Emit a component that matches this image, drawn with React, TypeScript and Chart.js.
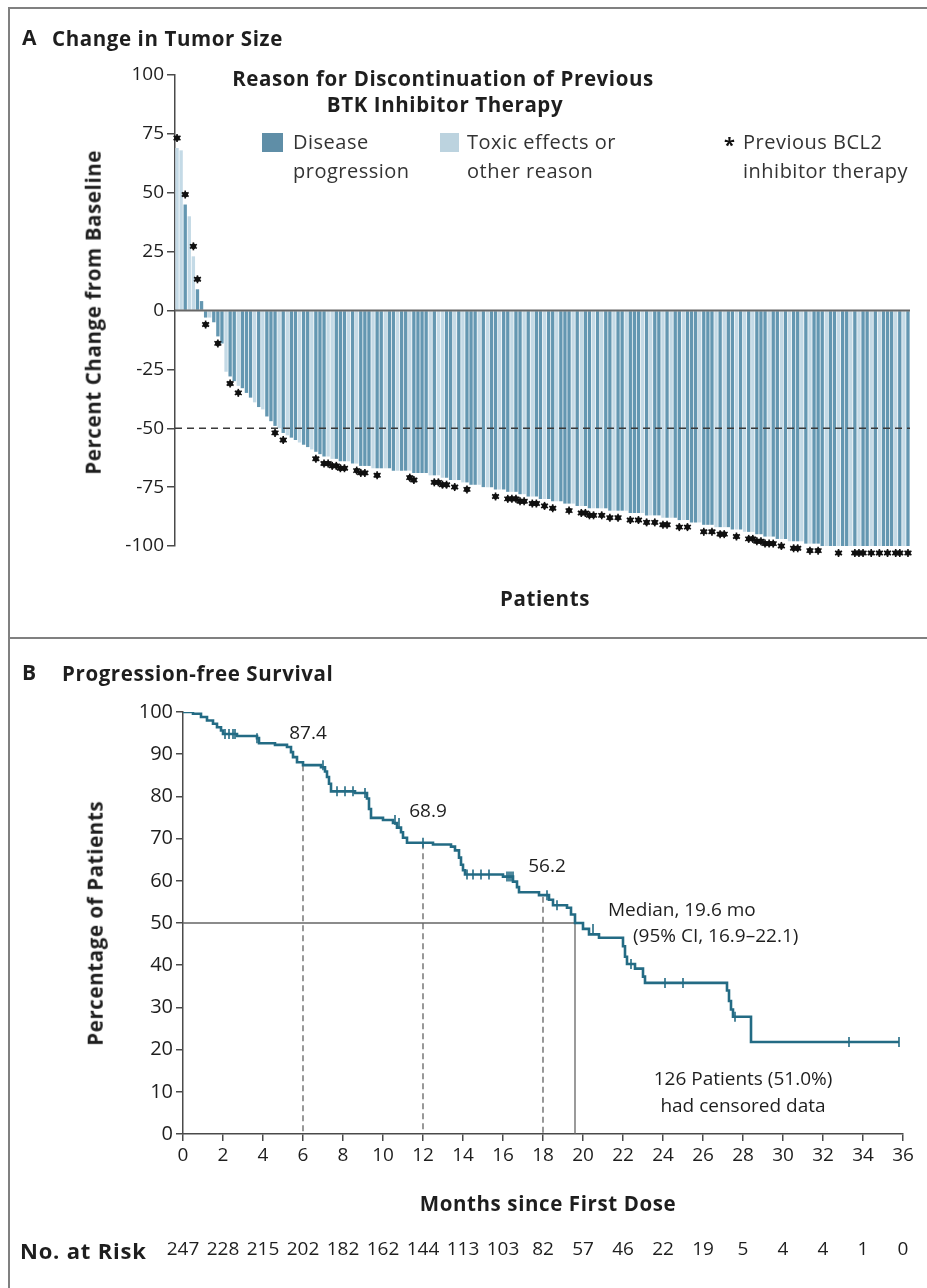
import React, { useEffect, useRef } from "react";
import { Chart, registerables } from "chart.js";
Chart.register(...registerables);

const FONT = "'Open Sans', Lato, sans-serif";
const INK = "#1e1e1e";
const AXIS = "#4a4a4a";
const DARK_BAR = "#6497b1";
const LIGHT_BAR = "#c4dae6";
const CURVE = "#236b84";

// ---------- Panel A data ----------
const tumorChange = [
  69, 68, 45, 40, 23, 9, 4, -3, -3, -5,
  -11, -14, -26, -28, -30, -32, -33, -35, -37, -39,
  -41, -42, -45, -47, -49, -50, -52, -53, -54, -55,
  -56, -57, -58, -59, -60, -61, -62, -62, -63, -63,
  -64, -64, -64, -65, -65, -66, -66, -66, -67, -67,
  -67, -67, -67, -68, -68, -68, -68, -68, -69, -69,
  -69, -69, -70, -70, -70, -71, -71, -72, -72, -72,
  -73, -73, -74, -74, -74, -75, -75, -75, -76, -76,
  -76, -77, -77, -77, -78, -78, -79, -79, -79, -80,
  -80, -80, -81, -81, -81, -82, -82, -82, -83, -83,
  -83, -84, -84, -84, -84, -84, -85, -85, -85, -85,
  -85, -86, -86, -86, -86, -87, -87, -87, -87, -88,
  -88, -88, -88, -89, -89, -89, -90, -90, -90, -91,
  -91, -91, -92, -92, -92, -92, -93, -93, -93, -94,
  -94, -94, -95, -95, -96, -96, -96, -97, -97, -97,
  -98, -98, -98, -98, -99, -99, -99, -99, -100, -100,
  -100, -100, -100, -100, -100, -100, -100, -100, -100, -100,
  -100, -100, -100, -100, -100, -100, -100, -100, -100, -100,
];

// P = disease progression, T = toxic effects or other reason
const discontinuationReason = (
  "TTPTTPPPTP" + "PPTPPTPPPT" + "PTPPPTPTPP" + "TPPTPPPTTP" + "PPTPTPPPTP" +
  "PTPPTPPTPP" + "PPTPTTPPTP" + "TPPPTPTPPT" + "PPTPPTPTPP" + "TPPTPPPTPT" +
  "PPTPTPPTPP" + "TPPPTPTPPT" + "PTPPTPPPTP" + "PPTPTPPTPT" + "PTPPPTPPTP" +
  "TPPTPTPPPT" + "PPTPPTPTPP" + "TPTPPPTPTP"
).split("");

const bcl2Patients = [
  0, 2, 4, 5, 7, 10, 13, 15, 24, 26, 34, 36, 37, 38, 39, 40, 41, 44, 45, 46, 49,
  57, 58, 63, 64, 65, 66, 68, 71, 78, 81, 82, 83, 84, 85, 87, 88, 90, 92, 96,
  99, 100, 101, 102, 104, 106, 108, 111, 113, 115, 117, 119, 120, 123, 125, 129,
  131, 133, 134, 137, 140, 141, 142, 143, 144, 145, 146, 148, 151, 152, 155, 157,
  162, 166, 167, 168, 170, 172, 174, 176, 177, 179,
];

const responseThreshold = -50;

// ---------- Panel B data ----------
const pfsMonths = [
  0, 0.5, 0.9, 1.2, 1.5, 1.7, 1.9, 2.0, 2.7, 3.7, 3.8, 4.6, 5.2, 5.4, 5.5, 5.7,
  6.0, 6.9, 7.1, 7.2, 7.3, 7.4, 8.6, 9.2, 9.3, 9.4, 10.0, 10.5, 10.7, 10.9, 11.0,
  11.2, 12.5, 13.4, 13.6, 13.8, 13.9, 14.0, 14.1, 16.0, 16.5, 16.7, 16.8, 17.8,
  18.3, 18.5, 19.2, 19.4, 19.6, 20.0, 20.3, 20.8, 22.0, 22.1, 22.2, 22.6, 23.0,
  23.1, 27.2, 27.3, 27.4, 27.5, 28.4, 35.8,
];
const pfsPercent = [
  100, 99.6, 98.8, 98.0, 97.2, 96.4, 95.6, 94.8, 94.3, 93.8, 92.6, 92.2, 91.7,
  90.5, 89.3, 88.1, 87.4, 86.9, 85.9, 84.6, 83.0, 81.2, 80.8, 79.5, 77.0, 74.9,
  74.4, 73.7, 72.6, 71.5, 70.2, 69.0, 68.6, 68.1, 67.2, 65.5, 63.8, 62.5, 61.5,
  61.0, 59.8, 58.5, 57.3, 56.6, 55.5, 54.2, 53.6, 52.0, 50.0, 48.6, 47.3, 46.5,
  44.5, 42.0, 40.3, 39.2, 37.3, 35.8, 34.0, 31.5, 29.5, 27.8, 21.8, 21.8,
];

const censorMonths = [
  2.1, 2.3, 2.5, 2.6, 3.7, 7.0, 7.7, 8.1, 8.5, 9.1, 10.6, 10.8, 12.0, 14.2, 14.5,
  14.9, 15.3, 16.2, 16.3, 16.4, 16.5, 18.2, 18.7, 20.5, 22.4, 24.1, 25.0, 27.6,
  33.3, 35.8,
];
const censorPercent = [
  94.8, 94.8, 94.8, 94.8, 93.8, 87.4, 81.2, 81.2, 81.2, 80.8, 74.4, 73.7, 69.0,
  61.5, 61.5, 61.5, 61.5, 61.0, 61.0, 61.0, 61.0, 56.6, 54.2, 48.6, 40.3, 35.8,
  35.8, 27.8, 21.8, 21.8,
];

const landmarkMonths = [6, 12, 18];
const landmarkPercent = [87.4, 68.9, 56.2];
const medianMonths = 19.6;
const medianPercent = 50;

const riskMonths = [0, 2, 4, 6, 8, 10, 12, 14, 16, 18, 20, 22, 24, 26, 28, 30, 32, 34, 36];
const atRisk = [247, 228, 215, 202, 182, 162, 144, 113, 103, 82, 57, 46, 22, 19, 5, 4, 4, 1, 0];

// ---------- helpers ----------
type TxtProps = {
  x: number; y: number; size?: number; bold?: boolean; align?: "left" | "center" | "right";
  color?: string; children: React.ReactNode; rotate?: boolean; spacing?: number;
};
function Txt({ x, y, size = 20, bold = false, align = "left", color = INK, children, rotate = false, spacing }: TxtProps) {
  const lh = size * 1.2;
  let tx = "0";
  if (align === "center") tx = "-50%";
  if (align === "right") tx = "-100%";
  const style: React.CSSProperties = {
    position: "absolute",
    left: x,
    top: y - lh / 2,
    fontFamily: FONT,
    fontSize: size,
    lineHeight: `${lh}px`,
    fontWeight: bold ? 700 : 400,
    letterSpacing: spacing !== undefined ? spacing : bold ? 0.6 : 0.5,
    color,
    whiteSpace: "nowrap",
    transform: rotate ? `translate(-50%, 0) rotate(-90deg)` : `translateX(${tx})`,
    transformOrigin: "50% 50%",
  };
  return <div style={style}>{children}</div>;
}

function drawAsterisk(ctx: CanvasRenderingContext2D, x: number, y: number) {
  ctx.save();
  ctx.fillStyle = "#111";
  ctx.strokeStyle = "#111";
  ctx.lineWidth = 1.6;
  ctx.beginPath();
  ctx.arc(x, y, 2.8, 0, Math.PI * 2);
  ctx.fill();
  for (let k = 0; k < 3; k++) {
    const a = (Math.PI / 3) * k + Math.PI / 2;
    ctx.beginPath();
    ctx.moveTo(x - Math.cos(a) * 4, y - Math.sin(a) * 4);
    ctx.lineTo(x + Math.cos(a) * 4, y + Math.sin(a) * 4);
    ctx.stroke();
  }
  ctx.restore();
}

function PanelA() {
  const ref = useRef<HTMLCanvasElement | null>(null);
  useEffect(() => {
    if (!ref.current) return;
    const overlay = {
      id: "panelAOverlay",
      afterDatasetsDraw(chart: any) {
        const { ctx, chartArea, scales } = chart;
        const y = scales.y;
        const zero = y.getPixelForValue(0);
        const dashY = y.getPixelForValue(responseThreshold);
        ctx.save();
        ctx.strokeStyle = "#3a3a3a";
        ctx.lineWidth = 1.6;
        ctx.setLineDash([7, 5]);
        ctx.beginPath();
        ctx.moveTo(chartArea.left, dashY);
        ctx.lineTo(chartArea.right, dashY);
        ctx.stroke();
        ctx.setLineDash([]);
        ctx.strokeStyle = "#666";
        ctx.lineWidth = 2;
        ctx.beginPath();
        ctx.moveTo(chartArea.left, zero);
        ctx.lineTo(chartArea.right, zero);
        ctx.stroke();
        ctx.restore();
        const meta = chart.getDatasetMeta(0);
        bcl2Patients.forEach((i) => {
          const bar = meta.data[i];
          if (!bar) return;
          const v = tumorChange[i];
          const off = v >= 0 ? -10 : 7;
          drawAsterisk(ctx, bar.x, bar.y + off);
        });
      },
    };
    const chart = new Chart(ref.current, {
      type: "bar",
      data: {
        labels: tumorChange.map((_, i) => String(i + 1)),
        datasets: [
          {
            data: tumorChange,
            backgroundColor: discontinuationReason.map((r) => (r === "P" ? DARK_BAR : LIGHT_BAR)),
            borderWidth: 0,
            barPercentage: 0.82,
            categoryPercentage: 1,
          },
        ],
      },
      options: {
        responsive: false,
        animation: false,
        events: [],
        layout: { padding: { left: 105, right: 17, top: 75, bottom: 90 } },
        plugins: { legend: { display: false }, tooltip: { enabled: false } },
        scales: {
          x: { display: false, offset: true, grid: { display: false } },
          y: {
            min: -100,
            max: 100,
            afterFit: (s: any) => { s.width = 70; },
            ticks: { stepSize: 25, color: INK, font: { family: FONT, size: 19 }, padding: 3 },
            grid: { drawOnChartArea: false, drawTicks: true, tickLength: 8, color: AXIS, lineWidth: 1.5 },
            border: { display: true, color: AXIS, width: 1.5 },
          },
        },
      },
      plugins: [overlay],
    } as any);
    return () => chart.destroy();
  }, []);
  return <canvas ref={ref} width={927} height={636} style={{ position: "absolute", left: 0, top: 0 }} />;
}

function PanelB() {
  const ref = useRef<HTMLCanvasElement | null>(null);
  useEffect(() => {
    if (!ref.current) return;
    const overlay = {
      id: "panelBOverlay",
      afterDraw(chart: any) {
        const { ctx, scales } = chart;
        const xs = scales.x;
        const ys = scales.y;
        ctx.save();
        ctx.fillStyle = INK;
        ctx.font = `19px ${FONT}`;
        ctx.textBaseline = "middle";
        ctx.textAlign = "center";
        landmarkPercent.forEach((p, i) => {
          const labelX = [6.25, 12.25, 18.2][i];
          const labelY = [95, 76.3, 63.3][i];
          ctx.fillText(p.toFixed(1), xs.getPixelForValue(labelX), ys.getPixelForValue(labelY));
        });
        ctx.textAlign = "left";
        ctx.fillText(`Median, ${medianMonths} mo`, xs.getPixelForValue(21.25), ys.getPixelForValue(53));
        ctx.fillText("(95% CI, 16.9\u201322.1)", xs.getPixelForValue(22.5), ys.getPixelForValue(46.7));
        ctx.textAlign = "center";
        ctx.fillText("126 Patients (51.0%)", xs.getPixelForValue(28), ys.getPixelForValue(13));
        ctx.fillText("had censored data", xs.getPixelForValue(28), ys.getPixelForValue(6.6));
        // number at risk
        ctx.font = `19px ${FONT}`;
        atRisk.forEach((n, i) => {
          ctx.fillText(String(n), xs.getPixelForValue(riskMonths[i]), 610);
        });
        ctx.restore();
      },
    };
    const chart = new Chart(ref.current, {
      type: "line",
      data: {
        datasets: [
          {
            data: pfsMonths.map((m, i) => ({ x: m, y: pfsPercent[i] })),
            borderColor: CURVE,
            borderWidth: 2.6,
            stepped: "before",
            pointRadius: 0,
            fill: false,
          },
          {
            data: censorMonths.map((m, i) => ({ x: m, y: censorPercent[i] })),
            showLine: false,
            pointStyle: "line",
            pointRotation: 90,
            pointRadius: 5,
            pointBorderWidth: 1.6,
            pointBorderColor: CURVE,
            borderColor: CURVE,
          },
          ...landmarkMonths.map((m, i) => ({
            data: [{ x: m, y: landmarkPercent[i] }, { x: m, y: 0 }],
            borderColor: "#555",
            borderWidth: 1.2,
            borderDash: [6, 4],
            pointRadius: 0,
          })),
          {
            data: [{ x: 0, y: medianPercent }, { x: medianMonths, y: medianPercent }, { x: medianMonths, y: 0 }],
            borderColor: "#666",
            borderWidth: 1.3,
            pointRadius: 0,
          },
        ],
      },
      options: {
        responsive: false,
        animation: false,
        events: [],
        layout: { padding: { left: 113, right: 24, top: 72, bottom: 114 } },
        plugins: { legend: { display: false }, tooltip: { enabled: false } },
        scales: {
          x: {
            type: "linear",
            min: 0,
            max: 36,
            afterFit: (s: any) => { s.height = 40; },
            ticks: { stepSize: 2, color: INK, font: { family: FONT, size: 19 }, padding: 3, maxRotation: 0, autoSkip: false },
            grid: { drawOnChartArea: false, drawTicks: true, tickLength: 7, color: AXIS, lineWidth: 1.5 },
            border: { display: true, color: AXIS, width: 1.5 },
          },
          y: {
            min: 0,
            max: 100,
            afterFit: (s: any) => { s.width = 70; },
            ticks: { stepSize: 10, color: INK, font: { family: FONT, size: 20 }, padding: 3 },
            grid: { drawOnChartArea: false, drawTicks: true, tickLength: 7, color: AXIS, lineWidth: 1.5 },
            border: { display: true, color: AXIS, width: 1.5 },
          },
        },
      },
      plugins: [overlay],
    } as any);
    return () => chart.destroy();
  }, []);
  return <canvas ref={ref} width={927} height={648} style={{ position: "absolute", left: 0, top: 640 }} />;
}

export default function App() {
  return (
    <div style={{ position: "absolute", left: 0, top: 0, width: 927, height: 1288, background: "#fff", overflow: "hidden", fontFamily: FONT }}>
      {/* frame */}
      <div style={{ position: "absolute", left: 8, top: 7, width: 2, height: 1281, background: "#808080" }} />
      <div style={{ position: "absolute", left: 8, top: 7, width: 919, height: 2, background: "#808080" }} />
      <div style={{ position: "absolute", left: 8, top: 637, width: 919, height: 2, background: "#808080" }} />

      <PanelA />
      <PanelB />

      {/* Panel A texts */}
      <Txt x={22} y={38} size={21} bold spacing={0}>A</Txt>
      <Txt x={52} y={38} size={20.5} bold>Change in Tumor Size</Txt>
      <Txt x={93} y={312} size={20.5} bold rotate>Percent Change from Baseline</Txt>
      <Txt x={545} y={598} size={20.5} bold align="center">Patients</Txt>
      <Txt x={443} y={78} size={20.5} bold align="center">Reason for Discontinuation of Previous</Txt>
      <Txt x={445} y={104} size={20.5} bold align="center">BTK Inhibitor Therapy</Txt>
      <div style={{ position: "absolute", left: 262, top: 133, width: 21, height: 19, background: "#5f8ea7" }} />
      <Txt x={293} y={142} size={20} color="#333">Disease</Txt>
      <Txt x={293} y={171} size={20} color="#333">progression</Txt>
      <div style={{ position: "absolute", left: 440, top: 133, width: 19, height: 19, background: "#bcd3df" }} />
      <Txt x={467} y={142} size={20} color="#333">Toxic effects or</Txt>
      <Txt x={467} y={171} size={20} color="#333">other reason</Txt>
      <Txt x={724} y={145} size={20} bold color="#111">*</Txt>
      <Txt x={743} y={142} size={20} color="#333">Previous BCL2</Txt>
      <Txt x={743} y={171} size={20} color="#333">inhibitor therapy</Txt>

      {/* Panel B texts */}
      <Txt x={22} y={673} size={21} bold spacing={0}>B</Txt>
      <Txt x={62} y={673} size={20.5} bold>Progression-free Survival</Txt>
      <Txt x={95} y={923} size={20.5} bold rotate>Percentage of Patients</Txt>
      <Txt x={548} y={1203} size={20.5} bold align="center">Months since First Dose</Txt>
      <Txt x={20} y={1250} size={22} bold spacing={0.8}>No. at Risk</Txt>
    </div>
  );
}
